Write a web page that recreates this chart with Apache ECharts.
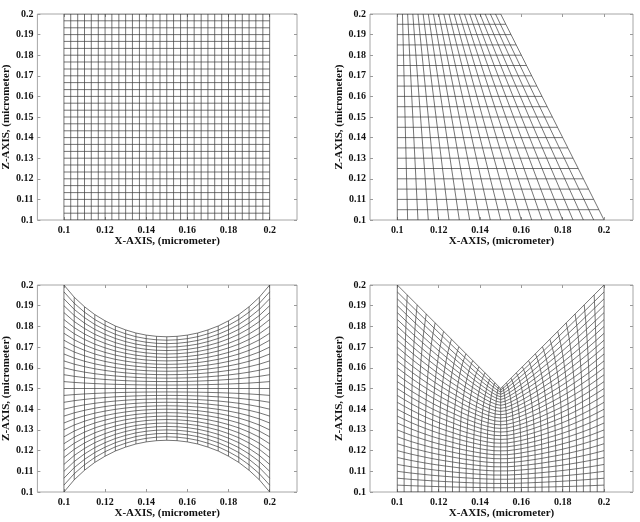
<!DOCTYPE html>
<html>
<head>
<meta charset="utf-8">
<script src="https://cdn.jsdelivr.net/npm/echarts@6/dist/echarts.min.js"></script>
<style>
html,body{margin:0;padding:0;background:#fff}
#main{width:640px;height:522px}
</style>
</head>
<body>
<div id="main"></div>
<script>
// tick labels
var xTickVals = [0.1, 0.12, 0.14, 0.16, 0.18, 0.2];
var zTickVals = [0.1, 0.11, 0.12, 0.13, 0.14, 0.15, 0.16, 0.17, 0.18, 0.19, 0.2];

// domain limits
var xLeft = 0.1, xRight = 0.2, zBottom = 0.1, zTop = 0.2;

// plot 1 : square mesh, 31 x 31
var sqX = [0.1000, 0.1033, 0.1067, 0.1100, 0.1133, 0.1167, 0.1200, 0.1233, 0.1267, 0.1300, 0.1333,
           0.1367, 0.1400, 0.1433, 0.1467, 0.1500, 0.1533, 0.1567, 0.1600, 0.1633, 0.1667,
           0.1700, 0.1733, 0.1767, 0.1800, 0.1833, 0.1867, 0.1900, 0.1933, 0.1967, 0.2000];
var sqZ = [0.1000, 0.1033, 0.1067, 0.1100, 0.1133, 0.1167, 0.1200, 0.1233, 0.1267, 0.1300, 0.1333,
           0.1367, 0.1400, 0.1433, 0.1467, 0.1500, 0.1533, 0.1567, 0.1600, 0.1633, 0.1667,
           0.1700, 0.1733, 0.1767, 0.1800, 0.1833, 0.1867, 0.1900, 0.1933, 0.1967, 0.2000];

// plot 2 : trapezoid, 21 x 21
var trapColBotX = [0.100, 0.105, 0.110, 0.115, 0.120, 0.125, 0.130, 0.135, 0.140, 0.145, 0.150,
                   0.155, 0.160, 0.165, 0.170, 0.175, 0.180, 0.185, 0.190, 0.195, 0.200];
var trapColTopX = [0.1000, 0.1025, 0.1050, 0.1075, 0.1100, 0.1125, 0.1150, 0.1175, 0.1200, 0.1225, 0.1250,
                   0.1275, 0.1300, 0.1325, 0.1350, 0.1375, 0.1400, 0.1425, 0.1450, 0.1475, 0.1500];
var trapRowZ = [0.100, 0.105, 0.110, 0.115, 0.120, 0.125, 0.130, 0.135, 0.140, 0.145, 0.150,
                0.155, 0.160, 0.165, 0.170, 0.175, 0.180, 0.185, 0.190, 0.195, 0.200];
var trapRowEndX = [0.2000, 0.1975, 0.1950, 0.1925, 0.1900, 0.1875, 0.1850, 0.1825, 0.1800, 0.1775, 0.1750,
                   0.1725, 0.1700, 0.1675, 0.1650, 0.1625, 0.1600, 0.1575, 0.1550, 0.1525, 0.1500];

// plot 3 : curved top and bottom, 21 columns
var saddleX = [0.100, 0.105, 0.110, 0.115, 0.120, 0.125, 0.130, 0.135, 0.140, 0.145, 0.150,
               0.155, 0.160, 0.165, 0.170, 0.175, 0.180, 0.185, 0.190, 0.195, 0.200];
var saddleTopZ = [0.2000, 0.1941, 0.1895, 0.1857, 0.1827, 0.1802, 0.1783, 0.1768, 0.1758, 0.1752, 0.1750,
                  0.1752, 0.1758, 0.1768, 0.1783, 0.1802, 0.1827, 0.1857, 0.1895, 0.1941, 0.2000];
var saddleBotZ = [0.1000, 0.1059, 0.1105, 0.1143, 0.1173, 0.1198, 0.1217, 0.1232, 0.1242, 0.1248, 0.1250,
                  0.1248, 0.1242, 0.1232, 0.1217, 0.1198, 0.1173, 0.1143, 0.1105, 0.1059, 0.1000];

// row positions along each column (fraction bottom -> top), 31 rows
var rowT = [0, 0.0333, 0.0667, 0.1, 0.1333, 0.1667, 0.2, 0.2333, 0.2667, 0.3, 0.3333,
            0.3667, 0.4, 0.4333, 0.4667, 0.5, 0.5333, 0.5667, 0.6, 0.6333, 0.6667,
            0.7, 0.7333, 0.7667, 0.8, 0.8333, 0.8667, 0.9, 0.9333, 0.9667, 1];

// plot 4 : V notch, 31 columns
var vBotX = [0.1000, 0.1033, 0.1067, 0.1100, 0.1133, 0.1167, 0.1200, 0.1233, 0.1267, 0.1300, 0.1333,
             0.1367, 0.1400, 0.1433, 0.1467, 0.1500, 0.1533, 0.1567, 0.1600, 0.1633, 0.1667,
             0.1700, 0.1733, 0.1767, 0.1800, 0.1833, 0.1867, 0.1900, 0.1933, 0.1967, 0.2000];
var vTopX = [0.1000, 0.1048, 0.1096, 0.1140, 0.1183, 0.1224, 0.1262, 0.1298, 0.1332, 0.1365, 0.1395,
             0.1424, 0.1450, 0.1472, 0.1490, 0.1500, 0.1510, 0.1528, 0.1550, 0.1576, 0.1605,
             0.1635, 0.1668, 0.1702, 0.1738, 0.1776, 0.1817, 0.1860, 0.1904, 0.1952, 0.2000];
var vTopZ = [0.2000, 0.1952, 0.1904, 0.1860, 0.1817, 0.1776, 0.1738, 0.1702, 0.1668, 0.1635, 0.1605,
             0.1576, 0.1550, 0.1528, 0.1510, 0.1500, 0.1510, 0.1528, 0.1550, 0.1576, 0.1605,
             0.1635, 0.1668, 0.1702, 0.1738, 0.1776, 0.1817, 0.1860, 0.1904, 0.1952, 0.2000];
// how far each row has drifted from the bottom column position toward the top one
var vBend = [0, 0, 0, 0, 0, 0, 0.01, 0.01, 0.01, 0.02, 0.03,
             0.04, 0.05, 0.07, 0.09, 0.11, 0.13, 0.16, 0.20, 0.23, 0.27,
             0.32, 0.37, 0.43, 0.49, 0.56, 0.63, 0.71, 0.80, 0.90, 1];
// row spacing under the notch tip (rows packed toward the tip)
var vRowTip = [0, 0.0415, 0.0826, 0.1234, 0.1638, 0.2038, 0.2434, 0.2826, 0.3214, 0.3597, 0.3976,
               0.4350, 0.4719, 0.5083, 0.5442, 0.5796, 0.6143, 0.6484, 0.6819, 0.7147, 0.7467,
               0.7780, 0.8084, 0.8378, 0.8663, 0.8935, 0.9194, 0.9438, 0.9661, 0.9858, 1];
// how much each column follows the packed spacing (1 under the tip, 0 at the sides)
var vTipWeight = [0, 0.02, 0.05, 0.09, 0.14, 0.19, 0.25, 0.32, 0.39, 0.46, 0.54,
                  0.63, 0.72, 0.81, 0.90, 1, 0.90, 0.81, 0.72, 0.63, 0.54,
                  0.46, 0.39, 0.32, 0.25, 0.19, 0.14, 0.09, 0.05, 0.02, 0];

var myChart = echarts.init(document.getElementById('main'));

// mesh lines
var lines1 = [], lines2 = [], lines3 = [], lines4 = [];
sqX.forEach(function(x){ lines1.push({coords: [[x, zBottom], [x, zTop]]}); });
sqZ.forEach(function(z){ lines1.push({coords: [[xLeft, z], [xRight, z]]}); });

trapColBotX.forEach(function(x, i){ lines2.push({coords: [[x, zBottom], [trapColTopX[i], zTop]]}); });
trapRowZ.forEach(function(z, j){ lines2.push({coords: [[xLeft, z], [trapRowEndX[j], z]]}); });

saddleX.forEach(function(x, i){ lines3.push({coords: [[x, saddleBotZ[i]], [x, saddleTopZ[i]]]}); });
rowT.forEach(function(t){
    var pts = saddleX.map(function(x, i){
        return [x, saddleBotZ[i] + t * (saddleTopZ[i] - saddleBotZ[i])];
    });
    lines3.push({coords: pts});
});

function vNode(i, j){
    var w = vTipWeight[i];
    var s = (1 - w) * rowT[j] + w * vRowTip[j];
    return [vBotX[i] + vBend[j] * (vTopX[i] - vBotX[i]),
            zBottom + s * (vTopZ[i] - zBottom)];
}
vBotX.forEach(function(x, i){
    lines4.push({coords: rowT.map(function(t, j){ return vNode(i, j); })});
});
rowT.forEach(function(t, j){
    lines4.push({coords: vBotX.map(function(x, i){ return vNode(i, j); })});
});

var fontName = 'Liberation Serif';
var tickStyle = {color: '#9a9a9a', width: 1};
function fmt(v){ return String(Math.round(v * 100) / 100); }

var grids = [
    {left: 35, top: 14, width: 262, height: 206},
    {left: 370, top: 14, width: 263, height: 206},
    {left: 35, top: 285, width: 262, height: 207},
    {left: 370, top: 285, width: 263, height: 207}
];
var xRanges = [[0.0871, 0.2133], [0.0868, 0.2140], [0.0871, 0.2133], [0.0868, 0.2140]];

var xAxes = [], yAxes = [];
grids.forEach(function(g, k){
    g.show = true;
    g.borderColor = '#a6a6a6';
    g.borderWidth = 1;
    g.backgroundColor = 'transparent';
    xAxes.push({
        gridIndex: k, type: 'value', position: 'bottom',
        min: xRanges[k][0], max: xRanges[k][1],
        name: 'X-AXIS, (micrometer)', nameLocation: 'middle', nameGap: 14,
        nameTextStyle: {fontFamily: fontName, fontWeight: 'bold', color: '#111', fontSize: 11},
        axisLine: {show: false},
        axisTick: {inside: true, length: 3, customValues: xTickVals, lineStyle: tickStyle},
        axisLabel: {customValues: xTickVals, formatter: fmt, margin: 5, fontSize: 10,
                    fontFamily: fontName, fontWeight: 'bold', color: '#111'},
        splitLine: {show: false}
    });
    xAxes.push({
        gridIndex: k, type: 'value', position: 'top',
        min: xRanges[k][0], max: xRanges[k][1],
        axisLine: {show: false},
        axisTick: {inside: true, length: 3, customValues: xTickVals, lineStyle: tickStyle},
        axisLabel: {show: false},
        splitLine: {show: false}
    });
    yAxes.push({
        gridIndex: k, type: 'value', position: 'left',
        min: zBottom, max: zTop,
        name: 'Z-AXIS, (micrometer)', nameLocation: 'middle', nameGap: 20, nameRotate: 90,
        nameTextStyle: {fontFamily: fontName, fontWeight: 'bold', color: '#111', fontSize: 11},
        axisLine: {show: false},
        axisTick: {inside: true, length: 3, customValues: zTickVals, lineStyle: tickStyle},
        axisLabel: {customValues: zTickVals, formatter: fmt, margin: 4, fontSize: 10,
                    fontFamily: fontName, fontWeight: 'bold', color: '#111'},
        splitLine: {show: false}
    });
    yAxes.push({
        gridIndex: k, type: 'value', position: 'right',
        min: zBottom, max: zTop,
        axisLine: {show: false},
        axisTick: {inside: true, length: 3, customValues: zTickVals, lineStyle: tickStyle},
        axisLabel: {show: false},
        splitLine: {show: false}
    });
});

var meshes = [lines1, lines2, lines3, lines4];
var series = meshes.map(function(data, k){
    return {
        type: 'lines',
        coordinateSystem: 'cartesian2d',
        xAxisIndex: k * 2,
        yAxisIndex: k * 2,
        polyline: true,
        silent: true,
        lineStyle: {color: '#3a3a3a', width: 0.7, opacity: 1},
        data: data
    };
});

myChart.setOption({
    animation: false,
    backgroundColor: '#fff',
    grid: grids,
    xAxis: xAxes,
    yAxis: yAxes,
    series: series
});
</script>
</body>
</html>
